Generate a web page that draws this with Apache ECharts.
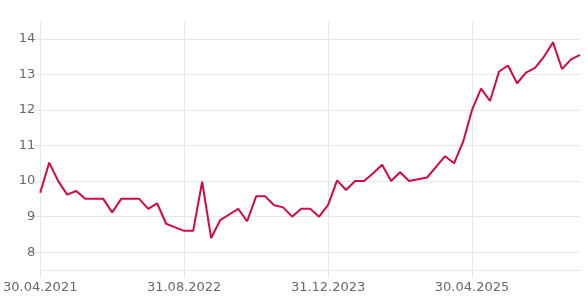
<!DOCTYPE html>
<html>
<head>
<meta charset="utf-8">
<script src="https://cdn.jsdelivr.net/npm/echarts@6/dist/echarts.min.js"></script>
<style>
html,body{margin:0;padding:0;background:#fff;}
#chart{width:588px;height:307px;}
</style>
</head>
<body>
<div id="chart"></div>
<script>
const dates = [
  "30.04.2021","31.05.2021","30.06.2021","31.07.2021","31.08.2021","30.09.2021","31.10.2021","30.11.2021","31.12.2021",
  "31.01.2022","28.02.2022","31.03.2022","30.04.2022","31.05.2022","30.06.2022","31.07.2022","31.08.2022","30.09.2022","31.10.2022","30.11.2022","31.12.2022",
  "31.01.2023","28.02.2023","31.03.2023","30.04.2023","31.05.2023","30.06.2023","31.07.2023","31.08.2023","30.09.2023","31.10.2023","30.11.2023","31.12.2023",
  "31.01.2024","29.02.2024","31.03.2024","30.04.2024","31.05.2024","30.06.2024","31.07.2024","31.08.2024","30.09.2024","31.10.2024","30.11.2024","31.12.2024",
  "31.01.2025","28.02.2025","31.03.2025","30.04.2025","31.05.2025","30.06.2025","31.07.2025","31.08.2025","30.09.2025","31.10.2025","30.11.2025","31.12.2025",
  "31.01.2026","28.02.2026","31.03.2026","30.04.2026"
];
const values = [
  9.67,10.52,10.0,9.62,9.72,9.5,9.5,9.5,9.12,
  9.5,9.5,9.5,9.22,9.37,8.8,8.7,8.6,8.6,9.98,8.4,8.9,
  9.06,9.22,8.87,9.57,9.57,9.32,9.26,9.0,9.22,9.22,9.0,9.33,
  10.02,9.75,10.0,10.0,10.22,10.46,10.0,10.25,10.0,10.05,10.1,10.4,
  10.7,10.5,11.1,12.0,12.6,12.25,13.08,13.25,12.75,13.05,13.18,13.5,
  13.9,13.15,13.42,13.55
];
const yTicks = [8, 9, 10, 11, 12, 13, 14];

const gridColor = '#e3e7ea';
const textColor = '#666a6e';
const chart = echarts.init(document.getElementById('chart'), null, {renderer: 'canvas'});
chart.setOption({
  animation: false,
  grid: {left: 39, right: 8, top: 21, bottom: 37, containLabel: false},
  xAxis: {
    type: 'category',
    data: dates,
    boundaryGap: false,
    axisLine: {show: true, lineStyle: {color: gridColor, width: 1}},
    axisTick: {show: true, interval: 15, length: 8, lineStyle: {color: gridColor}},
    axisLabel: {interval: 15, color: textColor, fontSize: 13, fontFamily: 'DejaVu Sans', margin: 11},
    splitLine: {show: true, interval: 15, lineStyle: {color: gridColor, width: 1}}
  },
  yAxis: {
    type: 'value',
    min: 7.5,
    max: 14.5,
    interval: 0.5,
    axisLine: {show: false},
    axisTick: {show: true, length: 7, lineStyle: {color: gridColor}, customValues: yTicks},
    axisLabel: {color: textColor, fontSize: 13, fontFamily: 'DejaVu Sans', margin: 5, customValues: yTicks},
    splitLine: {show: true, lineStyle: {color: gridColor, width: 1}}
  },
  series: [{
    type: 'line',
    data: values,
    symbol: 'none',
    lineStyle: {color: '#d20a3d', width: 2},
    itemStyle: {color: '#d20a3d'}
  }]
});
</script>
</body>
</html>
